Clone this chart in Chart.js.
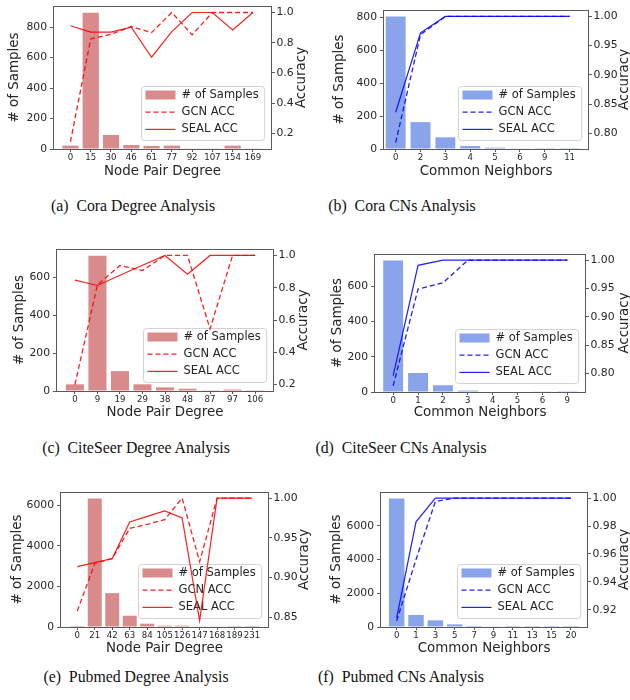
<!DOCTYPE html>
<html>
<head>
<meta charset="utf-8">
<script src="https://cdn.jsdelivr.net/npm/chart.js@4.4.1/dist/chart.umd.min.js"></script>
<style>
html, body { margin: 0; padding: 0; background: #fff; overflow: hidden; }
body { width: 630px; height: 700px; position: relative; }
canvas { position: absolute; }
.cap {
    position: absolute;
    transform: translateX(-50%);
    font-family: 'Liberation Serif', 'DejaVu Serif', serif;
    font-size: 15.8px;
    line-height: 20px;
    color: #111;
    white-space: pre;
}
</style>
</head>
<body>
<canvas id="coraDeg"></canvas>
<canvas id="coraCn"></canvas>
<canvas id="citeDeg"></canvas>
<canvas id="citeCn"></canvas>
<canvas id="pubDeg"></canvas>
<canvas id="pubCn"></canvas>

<div class="cap" style="left:133px; top:196px;">(a)  Cora Degree Analysis</div>
<div class="cap" style="left:402px; top:196px;">(b)  Cora CNs Analysis</div>
<div class="cap" style="left:136px; top:438px;">(c)  CiteSeer Degree Analysis</div>
<div class="cap" style="left:401px; top:438px;">(d)  CiteSeer CNs Analysis</div>
<div class="cap" style="left:136px; top:667px;">(e)  Pubmed Degree Analysis</div>
<div class="cap" style="left:401px; top:667px;">(f)  Pubmed CNs Analysis</div>

<script>
// ---- data ----
const coraDegLabels = ['0', '15', '30', '46', '61', '77', '92', '107', '154', '169'];
const coraDegSamples = [22, 895, 92, 26, 20, 22, 2, 2, 22, 2];
const coraDegGcn = [0.145, 0.825, 0.856, 0.907, 0.867, 1.0, 0.852, 1.0, 1.0, 1.0];
const coraDegSeal = [0.912, 0.870, 0.870, 0.903, 0.704, 0.874, 1.0, 1.0, 0.885, 1.0];
const coraDegCountTicks = [0, 200, 400, 600, 800];
const coraDegAccTicks = [0.2, 0.4, 0.6, 0.8, 1.0];

const coraCnLabels = ['0', '2', '3', '4', '5', '6', '9', '11'];
const coraCnSamples = [803, 163, 71, 18, 8, 2, 1, 1];
const coraCnGcn = [0.784, 0.969, 1.0, 1.0, 1.0, 1.0, 1.0, 1.0];
const coraCnSeal = [0.836, 0.972, 1.0, 1.0, 1.0, 1.0, 1.0, 1.0];
const coraCnCountTicks = [0, 200, 400, 600, 800];
const coraCnAccTicks = [0.80, 0.85, 0.90, 0.95, 1.00];

const citeDegLabels = ['0', '9', '19', '29', '38', '48', '87', '97', '106'];
const citeDegSamples = [35, 712, 105, 35, 19, 12, 1, 8, 1];
const citeDegGcn = [0.2, 0.818, 0.938, 0.907, 1.0, 1.0, 0.545, 1.0, 1.0];
const citeDegSeal = [0.847, 0.814, 0.877, 0.939, 1.0, 0.884, 1.0, 1.0, 1.0];
const citeDegCountTicks = [0, 200, 400, 600];
const citeDegAccTicks = [0.2, 0.4, 0.6, 0.8, 1.0];

const citeCnLabels = ['0', '1', '2', '3', '4', '5', '6', '9'];
const citeCnSamples = [747, 108, 38, 8, 3, 3, 2, 1];
const citeCnGcn = [0.778, 0.949, 0.960, 1.0, 1.0, 1.0, 1.0, 1.0];
const citeCnSeal = [0.796, 0.991, 1.0, 1.0, 1.0, 1.0, 1.0, 1.0];
const citeCnCountTicks = [0, 200, 400, 600];
const citeCnAccTicks = [0.80, 0.85, 0.90, 0.95, 1.00];

const pubDegLabels = ['0', '21', '42', '63', '84', '105', '126', '147', '168', '189', '231'];
const pubDegSamples = [50, 6327, 1668, 556, 163, 65, 65, 33, 33, 5, 3];
const pubDegGcn = [0.858, 0.918, 0.924, 0.962, 0.967, 0.973, 1.0, 0.920, 1.0, 1.0, 1.0];
const pubDegSeal = [0.914, 0.919, 0.924, 0.970, 0.977, 0.984, 0.975, 0.846, 1.0, 1.0, 1.0];
const pubDegCountTicks = [0, 2000, 4000, 6000];
const pubDegAccTicks = [0.85, 0.90, 0.95, 1.00];

const pubCnLabels = ['0', '1', '3', '5', '7', '9', '11', '13', '15', '20'];
const pubCnSamples = [7618, 714, 394, 157, 59, 20, 5, 3, 2, 1];
const pubCnGcn = [0.912, 0.956, 0.9976, 1.0, 1.0, 1.0, 1.0, 1.0, 1.0, 1.0];
const pubCnSeal = [0.914, 0.983, 1.0, 1.0, 1.0, 1.0, 1.0, 1.0, 1.0, 1.0];
const pubCnCountTicks = [0, 2000, 4000, 6000];
const pubCnAccTicks = [0.92, 0.94, 0.96, 0.98, 1.00];

// ---- styling ----
Chart.defaults.font.family = '"DejaVu Sans", sans-serif';
Chart.defaults.color = '#262626';

const TEXT = '#262626';
const SPINE = '#5a5a5a';
const RED_BAR = 'rgb(217, 138, 138)';
const BLUE_BAR = 'rgb(138, 164, 236)';
const RED_LINE = 'rgba(255, 0, 0, 0.88)';
const BLUE_LINE = 'rgba(0, 0, 255, 0.88)';
const TITLE_SIZE = 13.4;
const TITLE_LH = TITLE_SIZE * 1.2;

/**
 * Draws the legend box inside the plot (called after the bars, so lines go over it)
 */
function drawLegend(chart) {
    const ctx = chart.ctx;
    const area = chart.chartArea;
    const items = chart.data.datasets;
    ctx.save();
    ctx.font = '11.5px "DejaVu Sans"';
    const tw = Math.max(...items.map(d => ctx.measureText(d.label).width));
    const w = 40 + tw + 6;
    const h = 54;
    const x = Math.round(area.right - 8 - w) + 0.5;
    const y = Math.round(area.bottom - 9 - h) + 0.5;

    ctx.beginPath();
    ctx.roundRect(x, y, w, h, 3);
    ctx.fillStyle = 'rgba(255, 255, 255, 0.8)';
    ctx.fill();
    ctx.strokeStyle = '#d3d3d3';
    ctx.lineWidth = 1;
    ctx.stroke();

    items.forEach((d, i) => {
        const cy = y + 8.5 + i * 17.2;
        if (d.type === 'bar') {
            ctx.fillStyle = d.backgroundColor;
            ctx.fillRect(x + 4, cy - 4.5, 30, 9);
        } else {
            ctx.strokeStyle = d.borderColor;
            ctx.lineWidth = d.borderWidth;
            ctx.setLineDash(d.borderDash || []);
            ctx.beginPath();
            ctx.moveTo(x + 4, cy);
            ctx.lineTo(x + 34, cy);
            ctx.stroke();
            ctx.setLineDash([]);
        }
        ctx.fillStyle = TEXT;
        ctx.textBaseline = 'middle';
        ctx.textAlign = 'left';
        ctx.fillText(d.label, x + 40, cy);
    });
    ctx.restore();
}

function makePanelPlugin(rightTitleX) {
    return {
        id: 'panelFrame',
        afterDatasetDraw(chart, args) {
            if (args.index === 0) drawLegend(chart);
        },
        afterDraw(chart) {
            const ctx = chart.ctx;
            const a = chart.chartArea;
            ctx.save();
            // axes box
            ctx.strokeStyle = SPINE;
            ctx.lineWidth = 1;
            ctx.strokeRect(Math.round(a.left) + 0.5, Math.round(a.top) + 0.5,
                Math.round(a.right - a.left) - 1, Math.round(a.bottom - a.top));
            // right axis title, reads bottom-to-top like matplotlib
            ctx.translate(rightTitleX, (a.top + a.bottom) / 2);
            ctx.rotate(-Math.PI / 2);
            ctx.font = TITLE_SIZE + 'px "DejaVu Sans"';
            ctx.fillStyle = TEXT;
            ctx.textAlign = 'center';
            ctx.textBaseline = 'middle';
            ctx.fillText('Accuracy', 0, 0);
            ctx.restore();
        }
    };
}

function zeroPadding(s) {
    s.paddingTop = 0;
    s.paddingBottom = 0;
    s.paddingLeft = 0;
    s.paddingRight = 0;
}

/**
 * Build one twin-axis panel. p holds page geometry of the canvas and the plot box,
 * d holds the arrays for that panel.
 */
function createPanel(id, p, d, xTitle, barColor, lineColor) {
    const canvas = document.getElementById(id);
    canvas.width = p.w;
    canvas.height = p.h;
    canvas.style.left = p.x0 + 'px';
    canvas.style.top = p.y0 + 'px';

    const leftW = p.box.l - p.x0;
    const rightW = p.x0 + p.w - p.box.r;
    const bottomH = p.y0 + p.h - p.box.b;
    const padTop = p.box.t - p.y0;

    const tickGrid = { offset: false, drawOnChartArea: false, drawTicks: true, tickLength: 3, color: SPINE };

    return new Chart(canvas, {
        data: {
            datasets: [
                {
                    type: 'bar',
                    label: '# of Samples',
                    data: d.samples.map((v, i) => ({ x: i, y: v })),
                    backgroundColor: barColor,
                    borderWidth: 0,
                    barPercentage: 0.8,
                    categoryPercentage: 1.0,
                    xAxisID: 'x',
                    yAxisID: 'y',
                    order: 2
                },
                {
                    type: 'line',
                    label: 'GCN ACC',
                    data: d.gcn.map((v, i) => ({ x: i, y: v })),
                    borderColor: lineColor,
                    borderWidth: 1.3,
                    borderDash: [5, 3],
                    pointRadius: 0,
                    fill: false,
                    tension: 0,
                    xAxisID: 'x',
                    yAxisID: 'y1',
                    order: 1
                },
                {
                    type: 'line',
                    label: 'SEAL ACC',
                    data: d.seal.map((v, i) => ({ x: i, y: v })),
                    borderColor: lineColor,
                    borderWidth: 1.2,
                    pointRadius: 0,
                    fill: false,
                    tension: 0,
                    xAxisID: 'x',
                    yAxisID: 'y1',
                    order: 1
                }
            ]
        },
        options: {
            responsive: false,
            animation: false,
            devicePixelRatio: 1,
            layout: { padding: { top: padTop, left: 0, right: 0, bottom: 0 } },
            plugins: {
                legend: { display: false },
                tooltip: { enabled: false }
            },
            scales: {
                x: {
                    type: 'linear',
                    position: 'bottom',
                    offset: false,
                    min: p.xMin,
                    max: p.xMax,
                    grid: tickGrid,
                    border: { display: false },
                    afterBuildTicks: (s) => {
                        s.ticks = d.labels.map((_, i) => ({ value: i }));
                    },
                    ticks: {
                        autoSkip: false,
                        maxRotation: 0,
                        padding: 0.5,
                        font: { size: 8.6 },
                        color: TEXT,
                        callback: (v) => d.labels[v] !== undefined ? d.labels[v] : ''
                    },
                    title: {
                        display: true,
                        text: xTitle,
                        color: TEXT,
                        font: { size: TITLE_SIZE },
                        padding: { top: 0, bottom: (p.y0 + p.h - p.xTitleY) - TITLE_LH / 2 }
                    },
                    afterFit: (s) => { s.height = bottomH; zeroPadding(s); }
                },
                y: {
                    type: 'linear',
                    position: 'left',
                    min: 0,
                    max: p.yMax,
                    grid: tickGrid,
                    border: { display: false },
                    afterBuildTicks: (s) => {
                        s.ticks = d.countTicks.map(v => ({ value: v }));
                    },
                    ticks: {
                        padding: 3,
                        font: { size: 10.8 },
                        color: TEXT,
                        callback: (v) => String(Math.round(v))
                    },
                    title: {
                        display: true,
                        text: '# of Samples',
                        color: TEXT,
                        font: { size: TITLE_SIZE },
                        padding: { top: (p.leftTitleX - p.x0) - TITLE_LH / 2, bottom: 0 }
                    },
                    afterFit: (s) => { s.width = leftW; zeroPadding(s); }
                },
                y1: {
                    type: 'linear',
                    position: 'right',
                    min: p.accMin,
                    max: p.accMax,
                    grid: tickGrid,
                    border: { display: false },
                    afterBuildTicks: (s) => {
                        s.ticks = d.accTicks.map(v => ({ value: v }));
                    },
                    ticks: {
                        padding: 1.5,
                        font: { size: 10.8 },
                        color: TEXT,
                        callback: (v) => v.toFixed(p.accDigits)
                    },
                    afterFit: (s) => { s.width = rightW; zeroPadding(s); }
                }
            }
        },
        plugins: [makePanelPlugin(p.rightTitleX - p.x0)]
    });
}

createPanel('coraDeg', {
    x0: 0, y0: 0, w: 315, h: 185,
    box: { l: 53, t: 6, r: 272, b: 149 },
    xMin: -0.86, xMax: 9.94,
    yMax: 939,
    accMin: 0.097, accMax: 1.043, accDigits: 1,
    leftTitleX: 15, rightTitleX: 302, xTitleY: 172
}, {
    labels: coraDegLabels, samples: coraDegSamples, gcn: coraDegGcn, seal: coraDegSeal,
    countTicks: coraDegCountTicks, accTicks: coraDegAccTicks
}, 'Node Pair Degree', RED_BAR, RED_LINE);

createPanel('coraCn', {
    x0: 315, y0: 0, w: 320, h: 185,
    box: { l: 383, t: 10, r: 589, b: 149 },
    xMin: -0.51, xMax: 7.78,
    yMax: 843,
    accMin: 0.773, accMax: 1.011, accDigits: 2,
    leftTitleX: 340, rightTitleX: 625, xTitleY: 172
}, {
    labels: coraCnLabels, samples: coraCnSamples, gcn: coraCnGcn, seal: coraCnSeal,
    countTicks: coraCnCountTicks, accTicks: coraCnAccTicks
}, 'Common Neighbors', BLUE_BAR, BLUE_LINE);

createPanel('citeDeg', {
    x0: 0, y0: 230, w: 315, h: 195,
    box: { l: 56, t: 249, r: 274, b: 391 },
    xMin: -0.84, xMax: 8.84,
    yMax: 748,
    accMin: 0.16, accMax: 1.04, accDigits: 1,
    leftTitleX: 20, rightTitleX: 304, xTitleY: 413
}, {
    labels: citeDegLabels, samples: citeDegSamples, gcn: citeDegGcn, seal: citeDegSeal,
    countTicks: citeDegCountTicks, accTicks: citeDegAccTicks
}, 'Node Pair Degree', RED_BAR, RED_LINE);

createPanel('citeCn', {
    x0: 315, y0: 230, w: 320, h: 195,
    box: { l: 374, t: 254, r: 586, b: 392 },
    xMin: -0.77, xMax: 7.75,
    yMax: 784,
    accMin: 0.767, accMax: 1.011, accDigits: 2,
    leftTitleX: 338, rightTitleX: 625, xTitleY: 413
}, {
    labels: citeCnLabels, samples: citeCnSamples, gcn: citeCnGcn, seal: citeCnSeal,
    countTicks: citeCnCountTicks, accTicks: citeCnAccTicks
}, 'Common Neighbors', BLUE_BAR, BLUE_LINE);

createPanel('pubDeg', {
    x0: 0, y0: 470, w: 315, h: 190,
    box: { l: 60, t: 492, r: 269, b: 627 },
    xMin: -0.99, xMax: 10.97,
    yMax: 6643,
    accMin: 0.838, accMax: 1.0077, accDigits: 2,
    leftTitleX: 18, rightTitleX: 305, xTitleY: 649
}, {
    labels: pubDegLabels, samples: pubDegSamples, gcn: pubDegGcn, seal: pubDegSeal,
    countTicks: pubDegCountTicks, accTicks: pubDegAccTicks
}, 'Node Pair Degree', RED_BAR, RED_LINE);

createPanel('pubCn', {
    x0: 315, y0: 470, w: 320, h: 190,
    box: { l: 380, t: 492, r: 588, b: 627 },
    xMin: -0.86, xMax: 9.88,
    yMax: 7999,
    accMin: 0.9076, accMax: 1.0044, accDigits: 2,
    leftTitleX: 337, rightTitleX: 625, xTitleY: 649
}, {
    labels: pubCnLabels, samples: pubCnSamples, gcn: pubCnGcn, seal: pubCnSeal,
    countTicks: pubCnCountTicks, accTicks: pubCnAccTicks
}, 'Common Neighbors', BLUE_BAR, BLUE_LINE);
</script>
</body>
</html>
